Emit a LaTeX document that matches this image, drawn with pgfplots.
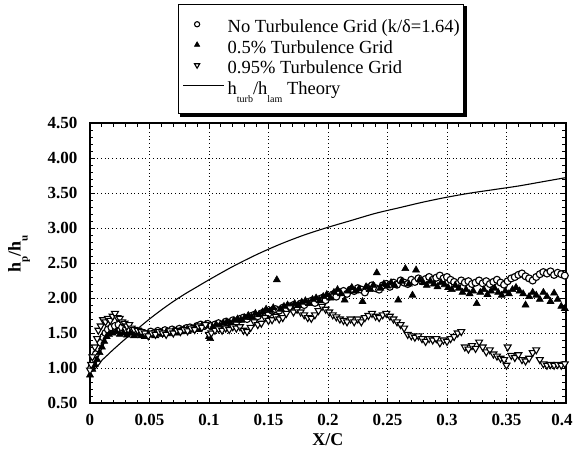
\documentclass[border=0pt]{standalone}
\usepackage{fontspec}
\setmainfont{Liberation Serif}
\usepackage{pgfplots}
\usepackage{pgfplotstable}
\pgfplotsset{compat=1.18}
\pgfplotsset{
  legmark/.style={legend image code/.code={\path[draw=none] (0pt,0pt) -- (41pt,0pt); \draw[##1, mark size=#1] plot coordinates {(14pt,4pt)};}},
  legline/.style={legend image code/.code={\draw[##1] (0pt,4pt) -- (41pt,4pt);}},
}

\pgfplotstableread{
x y
0.001 1.00
0.003 1.10
0.005 1.20
0.007 1.28
0.009 1.36
0.011 1.44
0.013 1.50
0.015 1.55
0.018 1.58
0.021 1.60
0.024 1.62
0.027 1.58
0.030 1.55
0.033 1.55
0.036 1.52
0.039 1.50
0.042 1.52
0.045 1.50
0.048 1.48
0.051 1.52
0.054 1.50
0.057 1.53
0.060 1.51
0.063 1.54
0.066 1.52
0.069 1.55
0.072 1.53
0.075 1.56
0.078 1.54
0.081 1.57
0.084 1.58
0.087 1.56
0.090 1.60
0.093 1.62
0.096 1.60
0.099 1.63
0.102 1.60
0.105 1.62
0.108 1.64
0.111 1.62
0.114 1.66
0.117 1.65
0.120 1.68
0.123 1.66
0.126 1.70
0.129 1.72
0.132 1.70
0.135 1.74
0.138 1.76
0.141 1.74
0.144 1.78
0.147 1.80
0.150 1.78
0.153 1.82
0.156 1.84
0.159 1.82
0.162 1.86
0.165 1.85
0.168 1.88
0.171 1.90
0.174 1.88
0.177 1.92
0.180 1.90
0.183 1.94
0.186 1.96
0.189 1.93
0.192 1.98
0.195 2.00
0.198 1.97
0.201 2.02
0.204 2.05
0.207 2.02
0.210 2.08
0.213 2.10
0.216 2.06
0.219 2.12
0.222 2.10
0.225 2.14
0.228 2.12
0.231 2.08
0.234 2.15
0.237 2.18
0.240 2.14
0.243 2.12
0.246 2.18
0.249 2.20
0.252 2.16
0.255 2.22
0.258 2.19
0.261 2.25
0.264 2.22
0.267 2.20
0.270 2.26
0.273 2.23
0.276 2.28
0.279 2.24
0.282 2.27
0.285 2.30
0.288 2.26
0.291 2.29
0.294 2.32
0.297 2.28
0.300 2.30
0.303 2.26
0.306 2.23
0.309 2.20
0.312 2.25
0.315 2.22
0.318 2.24
0.321 2.20
0.324 2.22
0.327 2.25
0.330 2.21
0.333 2.24
0.336 2.20
0.339 2.23
0.342 2.26
0.345 2.22
0.348 2.19
0.351 2.24
0.354 2.28
0.357 2.30
0.360 2.33
0.363 2.35
0.366 2.31
0.369 2.28
0.372 2.25
0.375 2.30
0.378 2.34
0.381 2.37
0.384 2.35
0.387 2.38
0.390 2.33
0.393 2.36
0.396 2.34
0.399 2.32
}\nogrid

\pgfplotstableread{
x y
0.000 0.90
0.002 0.98
0.004 1.05
0.006 1.12
0.008 1.22
0.010 1.30
0.012 1.38
0.014 1.45
0.016 1.48
0.019 1.50
0.022 1.52
0.025 1.48
0.028 1.50
0.031 1.47
0.034 1.50
0.037 1.46
0.040 1.49
0.043 1.46
0.046 1.45
0.049 1.47
0.052 1.48
0.055 1.46
0.058 1.50
0.061 1.48
0.064 1.51
0.067 1.49
0.070 1.52
0.073 1.50
0.076 1.53
0.079 1.55
0.082 1.52
0.085 1.56
0.088 1.58
0.091 1.55
0.094 1.60
0.097 1.62
0.100 1.45
0.101 1.42
0.103 1.58
0.106 1.62
0.109 1.60
0.112 1.64
0.115 1.66
0.118 1.63
0.121 1.68
0.124 1.70
0.127 1.68
0.130 1.72
0.133 1.75
0.136 1.72
0.139 1.78
0.142 1.76
0.145 1.80
0.148 1.84
0.151 1.82
0.154 1.86
0.157 2.26
0.160 1.84
0.163 1.88
0.166 1.90
0.169 1.87
0.172 1.92
0.175 1.90
0.178 1.94
0.181 1.96
0.184 1.92
0.187 1.98
0.190 2.00
0.193 1.96
0.196 2.02
0.199 2.05
0.202 2.00
0.205 2.08
0.208 2.12
0.211 2.06
0.214 1.97
0.217 2.10
0.220 2.15
0.223 2.10
0.226 2.13
0.229 1.95
0.232 2.16
0.235 2.12
0.238 2.18
0.241 2.36
0.244 2.14
0.247 2.20
0.250 2.17
0.253 2.22
0.256 2.18
0.259 1.97
0.262 2.24
0.265 2.42
0.268 2.20
0.271 2.04
0.274 2.40
0.277 2.26
0.280 2.22
0.283 2.18
0.286 2.24
0.289 2.20
0.292 2.16
0.295 2.22
0.298 2.19
0.301 2.15
0.304 2.12
0.307 2.18
0.310 2.14
0.313 2.08
0.316 2.12
0.319 2.06
0.322 2.10
0.325 1.92
0.328 2.08
0.331 2.12
0.334 2.05
0.337 2.10
0.340 2.14
0.343 2.08
0.346 2.04
0.349 2.10
0.352 2.06
0.355 2.12
0.358 2.15
0.361 2.10
0.364 2.06
0.366 1.90
0.369 2.02
0.372 2.08
0.375 2.04
0.378 1.98
0.381 2.08
0.384 2.02
0.387 1.95
0.390 2.07
0.393 1.98
0.396 1.88
0.399 1.85
}\halfgrid

\pgfplotstableread{
x y
0.000 0.97
0.001 1.05
0.002 1.16
0.004 1.30
0.006 1.42
0.007 1.54
0.009 1.60
0.011 1.69
0.013 1.66
0.015 1.71
0.017 1.68
0.019 1.74
0.021 1.78
0.023 1.72
0.025 1.71
0.027 1.66
0.029 1.64
0.031 1.60
0.033 1.62
0.035 1.57
0.037 1.55
0.040 1.54
0.043 1.52
0.046 1.50
0.049 1.46
0.052 1.50
0.055 1.48
0.058 1.52
0.061 1.50
0.064 1.48
0.067 1.53
0.070 1.50
0.073 1.54
0.076 1.52
0.079 1.55
0.082 1.53
0.085 1.57
0.088 1.55
0.091 1.60
0.094 1.58
0.097 1.62
0.100 1.48
0.102 1.50
0.105 1.54
0.108 1.56
0.111 1.54
0.114 1.57
0.117 1.55
0.120 1.59
0.123 1.57
0.126 1.59
0.129 1.54
0.132 1.52
0.135 1.58
0.138 1.66
0.141 1.62
0.144 1.64
0.147 1.72
0.150 1.68
0.153 1.69
0.156 1.74
0.159 1.70
0.162 1.72
0.165 1.78
0.168 1.86
0.171 1.80
0.174 1.84
0.177 1.80
0.180 1.76
0.183 1.72
0.186 1.71
0.189 1.76
0.192 1.82
0.195 1.88
0.198 1.84
0.201 1.80
0.204 1.76
0.207 1.73
0.210 1.70
0.213 1.68
0.216 1.66
0.219 1.70
0.222 1.66
0.225 1.70
0.228 1.66
0.231 1.72
0.234 1.75
0.237 1.78
0.240 1.74
0.243 1.72
0.246 1.76
0.249 1.78
0.252 1.74
0.255 1.70
0.258 1.66
0.261 1.62
0.264 1.57
0.267 1.48
0.270 1.46
0.273 1.44
0.276 1.46
0.279 1.42
0.282 1.38
0.285 1.42
0.288 1.40
0.291 1.42
0.294 1.36
0.297 1.40
0.300 1.38
0.303 1.42
0.306 1.45
0.309 1.50
0.312 1.52
0.315 1.30
0.318 1.27
0.321 1.32
0.324 1.28
0.327 1.37
0.330 1.30
0.333 1.23
0.336 1.26
0.339 1.20
0.342 1.17
0.345 1.14
0.348 1.12
0.350 1.04
0.351 1.30
0.354 1.18
0.357 1.15
0.360 1.19
0.363 1.12
0.366 1.10
0.369 1.14
0.372 1.22
0.375 1.26
0.378 1.12
0.381 1.06
0.384 1.04
0.387 1.05
0.390 1.04
0.393 1.05
0.396 1.04
0.399 1.06
}\fullgrid

\pgfplotstableread{
x y
0.004 0.98
0.008 1.06
0.010 1.11
0.015 1.19
0.020 1.27
0.030 1.42
0.040 1.56
0.050 1.70
0.060 1.83
0.070 1.95
0.080 2.06
0.090 2.16
0.100 2.26
0.120 2.45
0.140 2.62
0.160 2.77
0.180 2.90
0.200 3.01
0.220 3.11
0.240 3.21
0.260 3.29
0.280 3.37
0.300 3.44
0.320 3.50
0.340 3.55
0.360 3.60
0.380 3.66
0.400 3.72
}\theory

\begin{document}
\begin{tikzpicture}
\useasboundingbox (-90pt,-56pt) rectangle (484pt,403pt);
\begin{axis}[
  scale only axis, width=476pt, height=280pt,
  xmin=0, xmax=0.4, ymin=0.5, ymax=4.5,
  xtick={0,0.05,0.1,0.15,0.2,0.25,0.3,0.35,0.4},
  xticklabels={0,0.05,0.1,0.15,0.2,0.25,0.3,0.35,\hspace*{-8pt}0.4},
  ytick={0.5,1,1.5,2,2.5,3,3.5,4,4.5},
  yticklabels={0.50,1.00,1.50,2.00,2.50,3.00,3.50,4.00,4.50},
  minor x tick num=4, minor y tick num=4,
  tick align=inside,
  major tick length=5pt, minor tick length=3.5pt,
  every tick/.style={black, line width=0.9pt},
  axis line style={line width=1.2pt},
  grid=major,
  major grid style={black, line width=0.9pt, dash pattern=on 0.9pt off 2.8pt},
  tick label style={font=\fontsize{17}{17}\selectfont\bfseries},
  xticklabel style={yshift=-8pt},
  yticklabel style={xshift=-9pt},
  xlabel={X/C},
  ylabel={h\raisebox{-7pt}{\fontsize{11}{11}\selectfont p}/h\raisebox{-7pt}{\fontsize{11}{11}\selectfont u}},
  every axis x label/.style={at={(axis description cs:0.5,-0.1321)},anchor=center,font=\fontsize{18}{18}\selectfont\bfseries},
  every axis y label/.style={at={(axis description cs:-0.1492,0.532)},rotate=90,anchor=center,font=\fontsize{18}{18}\selectfont\bfseries},
  legend cell align=left,
  legend style={name=leg, at={(axis description cs:0.185,1.425)}, anchor=north west,
    draw=black, line width=1pt, fill=white,
    inner xsep=4pt, inner ysep=16pt, row sep=5pt, column sep=3pt,
    font=\fontsize{18.5}{20}\selectfont,
    nodes={inner sep=0pt, text height=12pt, text depth=3.5pt}},
]
\addplot[only marks, mark=*, mark size=3.5pt,
  mark options={draw=black, fill=white, line width=1.1pt}, legmark=2.6pt]
  table[x=x,y=y] {\nogrid};
\addlegendentry{No Turbulence Grid (k/δ=1.64)}
\addplot[only marks, mark=triangle*, mark size=4pt,
  mark options={draw=black, fill=black, line width=0.6pt}, legmark=3pt]
  table[x=x,y=y] {\halfgrid};
\addlegendentry{0.5\% Turbulence Grid}
\addplot[only marks, mark=triangle*, mark size=4pt,
  mark options={draw=black, fill=white, line width=1.1pt, rotate=180}, legmark=3pt]
  table[x=x,y=y] {\fullgrid};
\addlegendentry{0.95\% Turbulence Grid}
\addplot[black, line width=1.1pt, no marks, smooth, tension=0.5, legline]
  table[x=x,y=y] {\theory};
\addlegendentry{h\raisebox{-8pt}{\fontsize{10}{10}\selectfont turb}/h\raisebox{-8pt}{\fontsize{10}{10}\selectfont lam} Theory}
\end{axis}
\draw[line width=3pt] ([xshift=2pt,yshift=-1pt]leg.south west) -- ([xshift=1pt,yshift=-1pt]leg.south east) -- ([xshift=1pt,yshift=-2pt]leg.north east);
\end{tikzpicture}
\end{document}
